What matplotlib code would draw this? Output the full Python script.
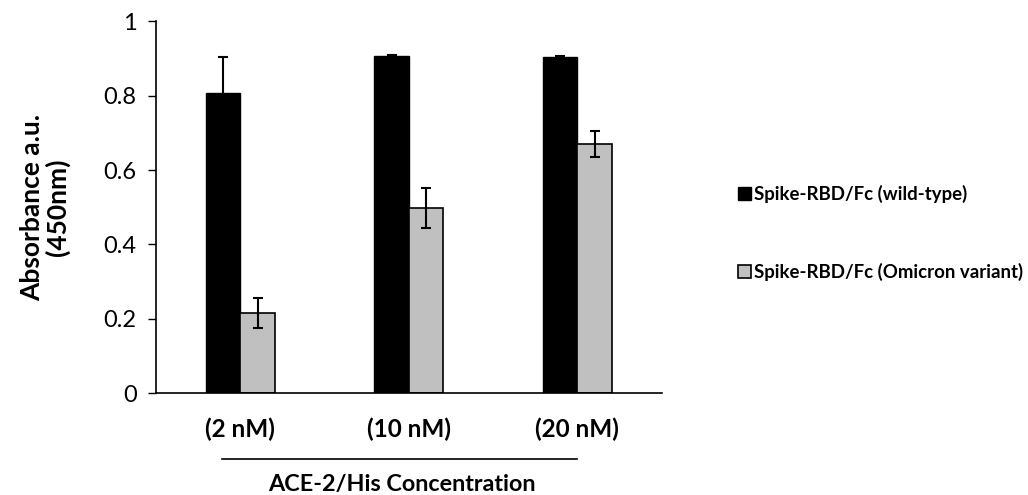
import matplotlib
matplotlib.use("Agg")
import matplotlib.pyplot as plt
import numpy as np
from matplotlib.lines import Line2D

plt.rcParams["font.family"] = ["Lato", "DejaVu Sans"]

categories = ["(2 nM)", "(10 nM)", "(20 nM)"]
wild_type = [0.808, 0.907, 0.904]
wild_type_err = [0.097, 0.003, 0.004]
omicron = [0.215, 0.498, 0.670]
omicron_err = [0.040, 0.053, 0.036]
series_names = ["Spike-RBD/Fc (wild-type)", "Spike-RBD/Fc (Omicron variant)"]

fig = plt.figure(figsize=(10.28, 4.95), dpi=100)
ax = fig.add_axes([0.1518, 0.206, 0.4917, 0.7506])

x = np.arange(len(categories))
w = 0.205
ax.bar(x - w / 2, wild_type, w, color="black", edgecolor="black", linewidth=1,
       yerr=wild_type_err, error_kw=dict(ecolor="black", elinewidth=1.5, capsize=3.6, capthick=1.5),
       label=series_names[0])
ax.bar(x + w / 2, omicron, w, color="#c0c0c0", edgecolor="black", linewidth=1.2,
       yerr=omicron_err, error_kw=dict(ecolor="black", elinewidth=1.5, capsize=3.6, capthick=1.5),
       label=series_names[1])

ax.set_xlim(-0.5, 2.5)
ax.set_ylim(0, 1)
ax.set_yticks([0, 0.2, 0.4, 0.6, 0.8, 1])
ax.set_yticklabels(["0", "0.2", "0.4", "0.6", "0.8", "1"])
ax.set_xticks(x)
ax.set_xticklabels(categories, fontsize=17.5, fontweight="bold")
ax.tick_params(axis="x", length=0, pad=18)
ax.tick_params(axis="y", length=6, width=1, labelsize=17, pad=8)
for s in ["top", "right"]:
    ax.spines[s].set_visible(False)
ax.spines["left"].set_linewidth(1.2)
ax.spines["bottom"].set_linewidth(1.2)

ax.set_ylabel("Absorbance a.u.\n(450nm)", fontsize=19, fontweight="bold", labelpad=24,
              linespacing=1.05)

# bracket line and title under the categories
fig.add_artist(Line2D([222 / 1028, 577 / 1028], [1 - 459 / 495, 1 - 459 / 495],
                      color="black", linewidth=1.2))
fig.text(402 / 1028, 1 - 484 / 495, "ACE-2/His Concentration", ha="center", va="center",
         fontsize=16.8, fontweight="bold")

ax.legend(loc="center left", bbox_to_anchor=(721 / 1028, 1 - 233 / 495),
          bbox_transform=fig.transFigure, frameon=False, handlelength=0.7,
          handleheight=0.7, handletextpad=0.15, labelspacing=3.2,
          prop=dict(size=13.4, weight="bold"))

fig.savefig("out.png", dpi=100)
